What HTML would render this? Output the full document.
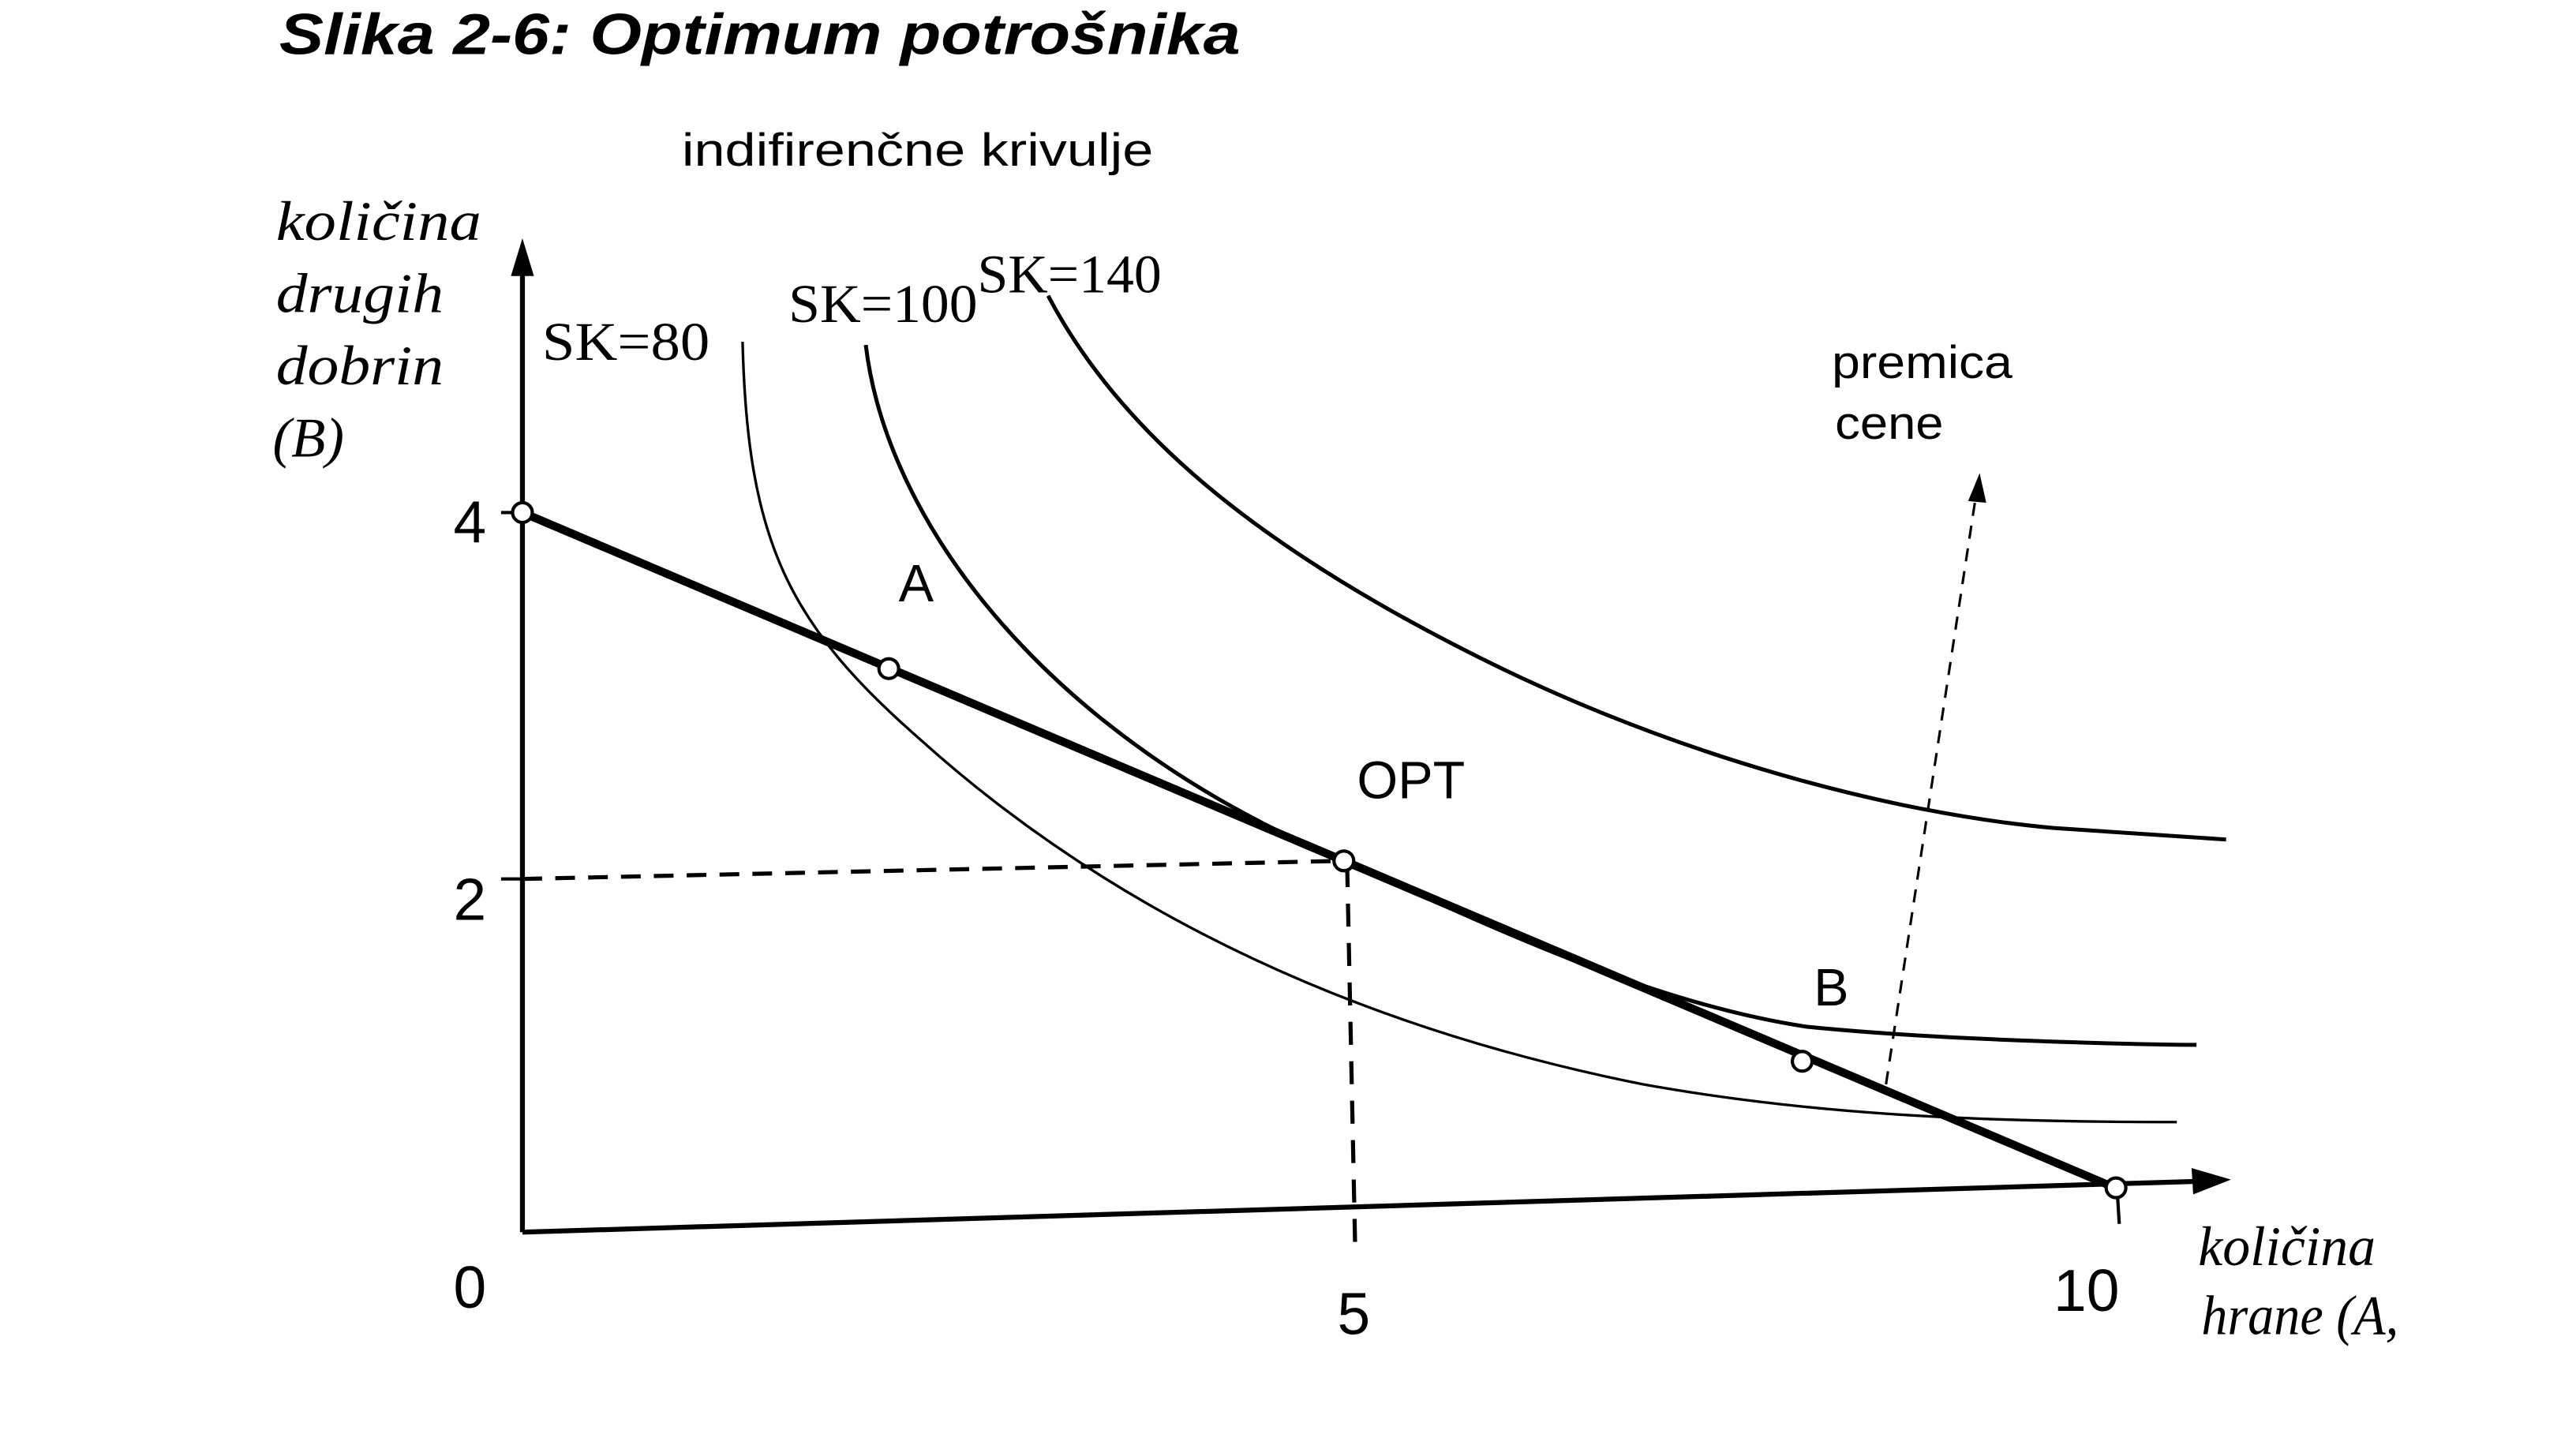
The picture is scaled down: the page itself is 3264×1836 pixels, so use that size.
<!DOCTYPE html>
<html><head><meta charset="utf-8"><style>
html,body{margin:0;padding:0;background:#fff;}
svg{display:block;}
.s{font-family:"Liberation Sans",sans-serif;}
.r{font-family:"Liberation Serif",serif;}
</style></head><body>
<svg width="3264" height="1836" viewBox="0 0 1568 882" preserveAspectRatio="none" xmlns="http://www.w3.org/2000/svg">
<rect width="1568" height="882" fill="#fff"/>
<text x="170" y="33" class="s" font-size="35" font-weight="bold" font-style="italic" textLength="585" lengthAdjust="spacingAndGlyphs">Slika 2-6: Optimum potrošnika</text>
<text x="415" y="101" class="s" font-size="28" textLength="287" lengthAdjust="spacingAndGlyphs">indifirenčne krivulje</text>
<g class="r" font-size="34" font-style="italic">
<text x="168" y="146" textLength="125" lengthAdjust="spacingAndGlyphs">količina</text>
<text x="168" y="190" textLength="102" lengthAdjust="spacingAndGlyphs">drugih</text>
<text x="168" y="234" textLength="102" lengthAdjust="spacingAndGlyphs">dobrin</text>
<text x="166" y="278">(B)</text>
<text x="1338" y="770" textLength="108" lengthAdjust="spacingAndGlyphs">količina</text>
<text x="1340" y="812" textLength="120" lengthAdjust="spacingAndGlyphs">hrane (A,</text>
</g>
<line x1="318" y1="750" x2="318" y2="160" stroke="#000" stroke-width="3"/>
<polygon points="318,145 311,168 325,168" fill="#000"/>
<line x1="318" y1="750" x2="1340" y2="719" stroke="#000" stroke-width="3"/>
<polygon points="1358,718 1334,711 1335,727" fill="#000"/>
<line x1="305" y1="312" x2="318" y2="312" stroke="#000" stroke-width="2"/>
<line x1="305" y1="535" x2="318" y2="535" stroke="#000" stroke-width="2"/>
<g class="s" font-size="36">
<text x="276" y="330">4</text>
<text x="276" y="560">2</text>
<text x="276" y="796">0</text>
<text x="814" y="812">5</text>
<text x="1250" y="798">10</text>
</g>
<line x1="318" y1="535" x2="818" y2="524" stroke="#000" stroke-width="2.5" stroke-dasharray="12,8"/>
<line x1="820" y1="526" x2="825" y2="765" stroke="#000" stroke-width="2.5" stroke-dasharray="14,10"/>
<path d="M452,208 C455,330 480,380 560,450 C660,540 800,620 1000,660 C1100,678 1200,683 1325,683" fill="none" stroke="#000" stroke-width="1.6"/>
<path d="M527,210 C540,320 640,450 818,524 C900,560 1000,610 1100,625 C1200,635 1337,636 1337,636" fill="none" stroke="#000" stroke-width="2.4"/>
<path d="M638,180 C680,260 760,330 900,400 C1020,460 1150,495 1250,504 L1355,511" fill="none" stroke="#000" stroke-width="2.4"/>
<line x1="318" y1="312" x2="1285" y2="722" stroke="#000" stroke-width="5"/>
<g fill="#fff" stroke="#000" stroke-width="2">
<circle cx="318" cy="312" r="6"/>
<circle cx="541" cy="407" r="6"/>
<circle cx="818" cy="524" r="6"/>
<circle cx="1097" cy="646" r="6"/>
<circle cx="1288" cy="723" r="6"/>
</g>
<line x1="1289" y1="729" x2="1290" y2="745" stroke="#000" stroke-width="2"/>
<line x1="1148" y1="660" x2="1203" y2="300" stroke="#000" stroke-width="1.5" stroke-dasharray="8,6"/>
<polygon points="1205,288 1198,305 1209,306" fill="#000"/>
<g class="r" font-size="33">
<text x="330" y="219" textLength="102" lengthAdjust="spacingAndGlyphs">SK=80</text>
<text x="480" y="196" textLength="115" lengthAdjust="spacingAndGlyphs">SK=100</text>
<text x="595" y="178" textLength="112" lengthAdjust="spacingAndGlyphs">SK=140</text>
</g>
<g class="s" font-size="32">
<text x="547" y="366">A</text>
<text x="826" y="486">OPT</text>
<text x="1104" y="612">B</text>
</g>
<text x="1115" y="230" class="s" font-size="28" textLength="110" lengthAdjust="spacingAndGlyphs">premica</text>
<text x="1117" y="267" class="s" font-size="28" textLength="66" lengthAdjust="spacingAndGlyphs">cene</text>
</svg>
</body></html>
